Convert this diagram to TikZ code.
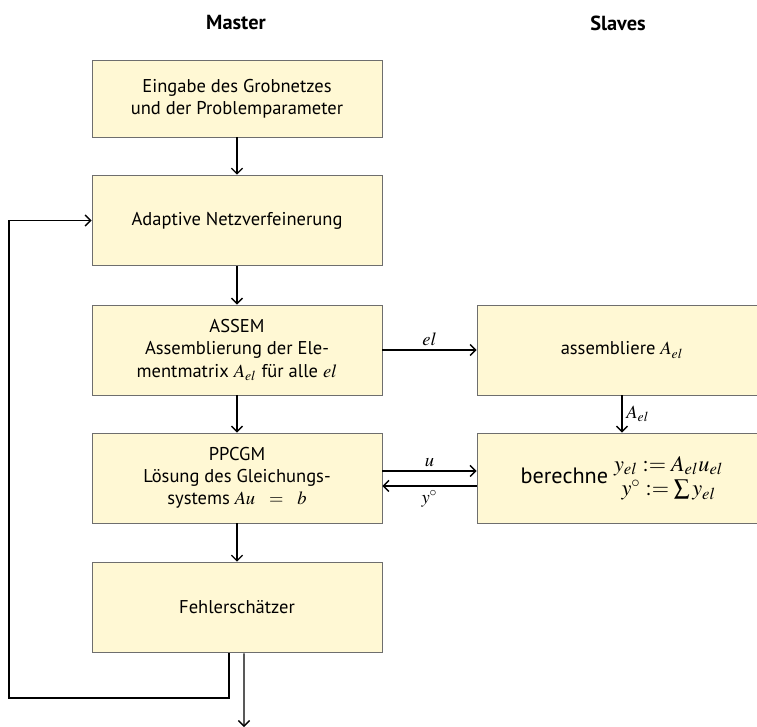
\documentclass[tikz,border=0pt]{standalone}
\usepackage{amsmath}
\usepackage{mathptmx}
\usepackage{fontspec}
\setmainfont{PT Sans}
\usetikzlibrary{arrows.meta}
\definecolor{boxfill}{HTML}{FFF8D4}
\definecolor{boxline}{HTML}{6E6E6E}
\tikzset{>={Straight Barb[length=3pt,width=6pt]},
  flow/.style={draw=black,line width=0.7pt,->},
  stage/.style={draw=boxline,fill=boxfill,line width=0.5pt,minimum width=156.6pt,
    minimum height=48.6pt,align=center,inner sep=2pt,font=\normalsize},
  head/.style={font=\fontsize{11}{13}\selectfont\bfseries},
  lab/.style={font=\normalsize,inner sep=2pt}}

\begin{document}
\begin{tikzpicture}[x=0.54pt,y=-0.54pt]
  \useasboundingbox (0,0) rectangle (757,727);
  \clip (0,0) rectangle (757,727);
  \node[head] (master) at (236,23) {Master};
  \node[head] (slaves) at (618,23) {Slaves};
  % Master column
  \node[stage,minimum height=41.6pt] (input) at (237,98.5)
    {Eingabe des Grobnetzes\\und der Problemparameter};
  \node[stage,minimum height=49pt] (refine) at (237,220.5) {Adaptive Netzverfeinerung};
  \node[stage] (assem) at (237,350)
    {ASSEM\\Assemblierung der Ele-\\mentmatrix $A_{el}$ f\"ur alle $el$};
  \node[stage] (ppcgm) at (237,478)
    {PPCGM\\L\"osung des Gleichungs-\\systems $Au\ \ =\ \ b$};
  \node[stage,minimum height=49pt] (error) at (237,607.5) {Fehlersch\"atzer};
  % Slave column
  \node[stage] (asmel) at (622,350) {assembliere $A_{el}$};
  \node[stage,font=\large] (compute) at (622,478)
    {berechne $\begin{array}{@{}c@{}}y_{el} := A_{el}u_{el}\\[-1pt] y^\circ := \sum y_{el}\end{array}$};
  \coordinate (loop) at (9,698);
  \coordinate (done) at (244,727);
  % connectors
  \draw[flow] (input) -- (refine);
  \draw[flow] (refine) -- (assem);
  \draw[flow] (assem) -- (ppcgm);
  \draw[flow] (ppcgm) -- (error);
  \draw[flow] (assem.east) -- node[lab,above] {$el$} (asmel.west);
  \draw[flow] (asmel) -- node[lab,right] {$A_{el}$} (compute);
  \draw[flow] ([yshift=3.8pt]ppcgm.east) -- node[lab,above] {$u$} ([yshift=3.8pt]compute.west);
  \draw[flow] ([yshift=-4.3pt]compute.west) -- node[lab,below] {$y^\circ$} ([yshift=-4.3pt]ppcgm.east);
  \draw[flow] ([xshift=-4.3pt]error.south) |- (loop) |- (refine.west);
  \draw[flow] ([xshift=3.8pt]error.south) -- (done);
\end{tikzpicture}
\end{document}
